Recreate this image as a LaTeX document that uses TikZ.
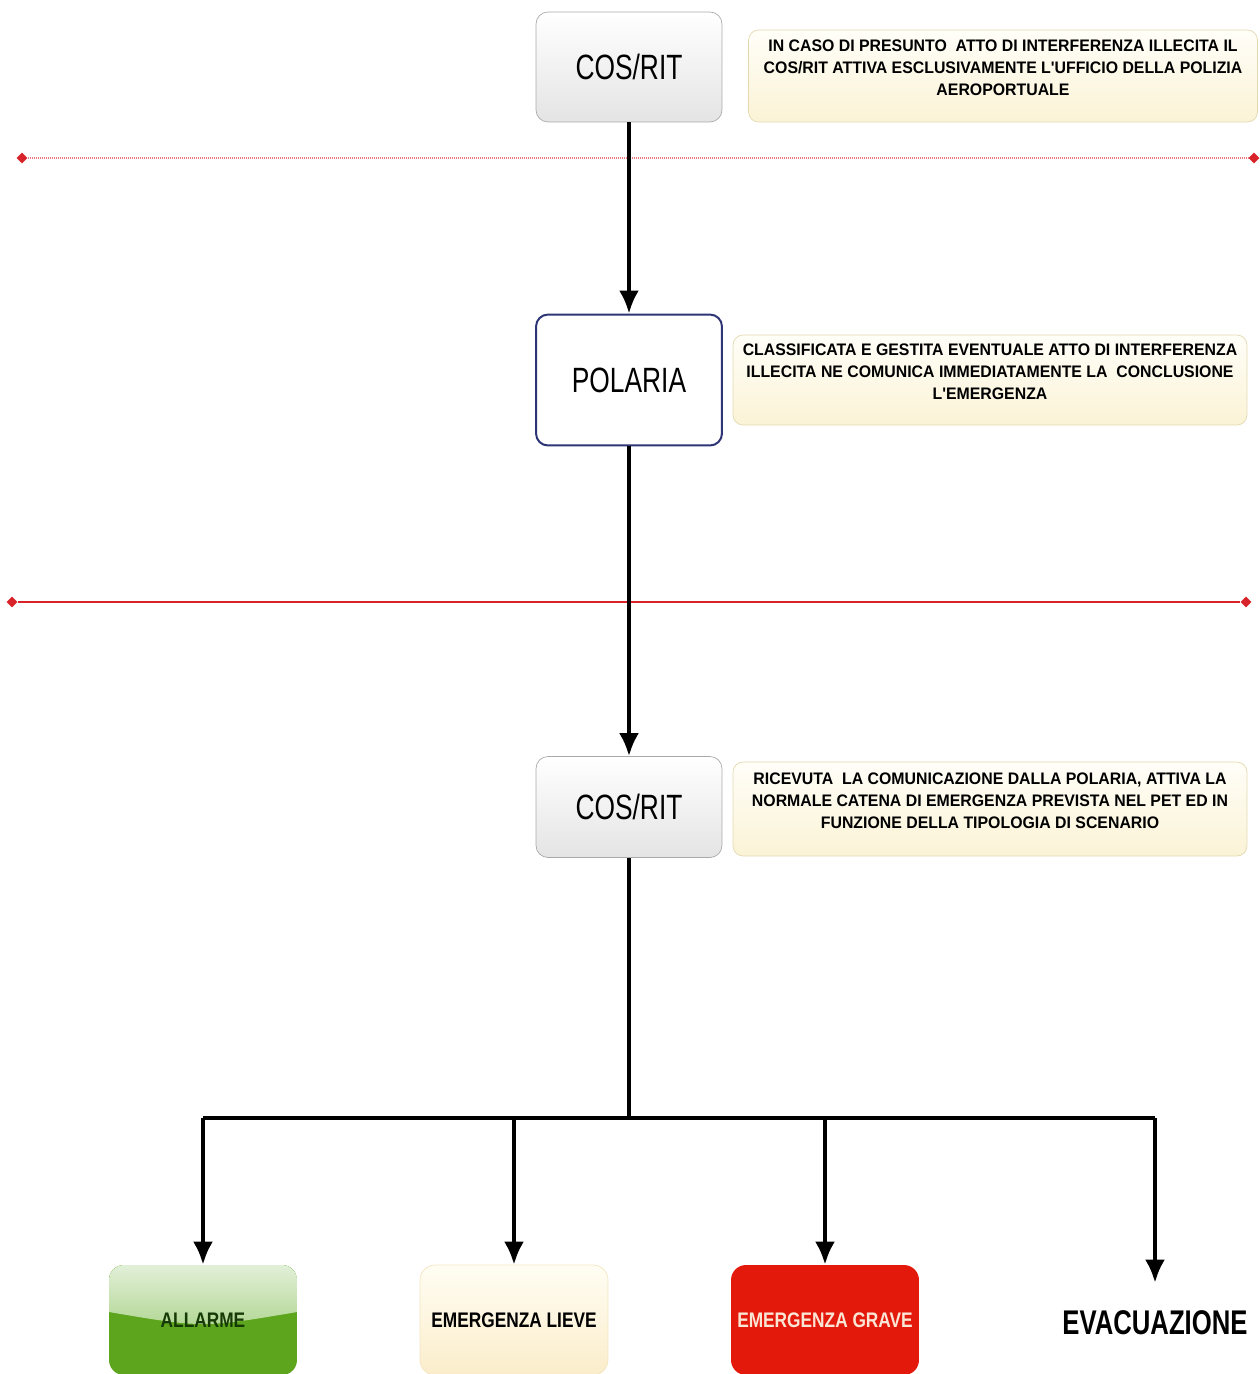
\documentclass[tikz,border=0pt]{standalone}
\usepackage{fontspec}
\setmainfont{Liberation Sans}
\newfontfamily\boxfont[FakeStretch=0.75]{Liberation Sans}
\newfontfamily\levelfont[FakeStretch=0.82]{Liberation Sans}
\newfontfamily\notefont[FakeStretch=0.95]{Liberation Sans}
\usetikzlibrary{arrows.meta,shapes.geometric}
\tikzset{>={Latex[length=0.46cm,width=0.4cm]}}

\definecolor{boxgray}{HTML}{A9A9A9}
\definecolor{boxfill}{HTML}{E4E4E4}
\definecolor{navy}{HTML}{2E3575}
\definecolor{notedraw}{HTML}{E3D9B0}
\definecolor{notetop}{HTML}{FFFEF8}
\definecolor{notebot}{HTML}{FBF3D6}
\definecolor{sepred}{HTML}{D8232A}
\definecolor{allarmetop}{HTML}{E2EFD8}
\definecolor{allarmeglow}{HTML}{8DC560}
\definecolor{allarmemain}{HTML}{5CA51C}
\definecolor{allarmetext}{HTML}{163A05}
\definecolor{lievetop}{HTML}{FFFDF3}
\definecolor{lievebot}{HTML}{FBEDCB}
\definecolor{lievedraw}{HTML}{F2E5C0}
\definecolor{grave}{HTML}{E3190B}
\definecolor{gravetext}{HTML}{FBE6D5}

\tikzset{
	box/.style={draw=boxgray, rounded corners=0.24cm, minimum width=3.72cm, minimum height=2.2cm,
		top color=white, bottom color=boxfill, font=\boxfont\fontsize{20}{24}\selectfont},
	note/.style={draw=notedraw, rounded corners=0.2cm, top color=notetop, bottom color=notebot,
		align=center, minimum width=10.28cm, minimum height=1.84cm, text depth=9pt,
		font=\notefont\bfseries\fontsize{9.5}{12.5}\selectfont},
	level/.style={rounded corners=0.3cm, minimum width=3.76cm, minimum height=2.2cm,
		font=\levelfont\bfseries\fontsize{12}{15}\selectfont},
	wire/.style={line width=0.08cm},
	sepmark/.style={diamond, fill=sepred, minimum size=0.22cm, inner sep=0pt}
}

\begin{document}
\begin{tikzpicture}[x=0.02cm, y=-0.02cm]
	\useasboundingbox (0,0) rectangle (1260,1374);

	\node[box] (cosA) at(629,67){COS/RIT};
	\node[box, draw=navy, line width=0.04cm, top color=white, bottom color=white, minimum height=2.62cm] (polaria) at(629,380){POLARIA};
	\node[box, minimum height=2.02cm] (cosB) at(629,807){COS/RIT};

	\node[note, minimum width=10.18cm] (noteA) at(1003,76){IN CASO DI PRESUNTO\ \ ATTO DI INTERFERENZA ILLECITA IL\\COS/RIT ATTIVA ESCLUSIVAMENTE L'UFFICIO DELLA POLIZIA\\AEROPORTUALE};
	\node[note, minimum height=1.8cm] (noteB) at(990,380){CLASSIFICATA E GESTITA EVENTUALE ATTO DI INTERFERENZA\\ILLECITA NE COMUNICA IMMEDIATAMENTE LA\ \ CONCLUSIONE\\L'EMERGENZA};
	\node[note, minimum height=1.88cm] (noteC) at(990,809){RICEVUTA\ \ LA COMUNICAZIONE DALLA POLARIA, ATTIVA LA\\NORMALE CATENA DI EMERGENZA PREVISTA NEL PET ED IN\\FUNZIONE DELLA TIPOLOGIA DI SCENARIO};

	% separatori
	\node[sepmark] (sepAl) at(22,158){};
	\node[sepmark] (sepAr) at(1254,158){};
	\draw[sepred!60, line width=0.04cm, dash pattern=on 0.02cm off 0.02cm] (sepAl) -- (sepAr);
	\node[sepmark] (sepBl) at(12,602){};
	\node[sepmark] (sepBr) at(1246,602){};
	\draw[sepred, line width=0.04cm] (sepBl) -- (sepBr);

	\node[level, fill=allarmemain, text=allarmetext, path picture={
		\fill[sharp corners, top color=allarmetop, bottom color=allarmeglow]
			(path picture bounding box.north west) -- (path picture bounding box.north east)
			-- ([yshift=-0.94cm]path picture bounding box.north east)
			.. controls ([yshift=-1.26cm]path picture bounding box.north) .. ([yshift=-0.94cm]path picture bounding box.north west) -- cycle;
		}] (allarme) at(203,1320){ALLARME};
	\node[level, draw=lievedraw, top color=lievetop, bottom color=lievebot] (lieve) at(514,1320){EMERGENZA LIEVE};
	\node[level, fill=grave, text=gravetext] (grave) at(825,1320){EMERGENZA GRAVE};
	\node[font=\boxfont\bfseries\fontsize{19.5}{23}\selectfont] (evac) at(1155,1323){EVACUAZIONE};

	\draw[wire][->] (cosA) -- (polaria);
	\draw[wire][->] (polaria) -- (cosB);

	\coordinate (bus) at(629,1118);
	\draw[wire] (cosB.south) -- (bus);
	\draw[wire] (allarme |- bus) -- (evac |- bus);
	\draw[wire][->] (allarme |- bus) -- (allarme.north);
	\draw[wire][->] (lieve |- bus) -- (lieve.north);
	\draw[wire][->] (grave |- bus) -- (grave.north);
	\draw[wire][->, shorten >=0.44cm] (evac |- bus) -- (evac.north);
\end{tikzpicture}
\end{document}
